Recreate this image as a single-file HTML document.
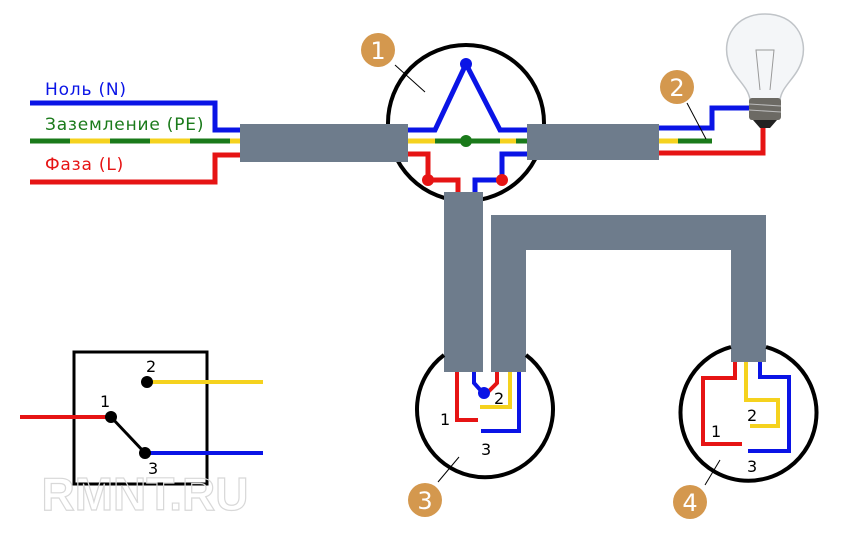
<!DOCTYPE html>
<html><head><meta charset="utf-8"><style>body{margin:0;background:#fff}svg{display:block}</style></head><body>
<svg width="850" height="536" viewBox="0 0 850 536" xmlns="http://www.w3.org/2000/svg" font-family="'DejaVu Sans','Liberation Sans',sans-serif">
<g fill="none" stroke-width="5">
<polyline points="30,103 215,103 215,130 240,130" stroke="#0a14e6"/>
<line x1="30" y1="141" x2="240" y2="141" stroke="#f5d21e"/>
<line x1="30" y1="141" x2="240" y2="141" stroke="#1a7a1a" stroke-dasharray="40 40"/>
<polyline points="30,182 215,182 215,155 240,155" stroke="#e61414"/>
</g>
<g font-size="17" letter-spacing="0.8">
<text x="45" y="95" fill="#0a14e6">Ноль (N)</text>
<text x="45" y="130" fill="#1a7a1a">Заземление (PE)</text>
<text x="45" y="170" fill="#e61414">Фаза (L)</text>
</g>
<circle cx="466" cy="123" r="78" fill="#fff" stroke="#000" stroke-width="4"/>
<g fill="none" stroke-width="5">
<polyline points="408,130 435,130 466,64 500,130 527,130" stroke="#0a14e6"/>
<line x1="408" y1="141" x2="527" y2="141" stroke="#f5d21e"/>
<line x1="435" y1="141" x2="500" y2="141" stroke="#1a7a1a"/>
<line x1="516" y1="141" x2="527" y2="141" stroke="#1a7a1a"/>
<polyline points="408,154 428,154 428,180 458,180 458,195" stroke="#e61414"/>
<polyline points="475,195 475,180 502,180 502,154 527,154" stroke="#0a14e6"/>
</g>
<circle cx="466" cy="64" r="6" fill="#0a14e6"/>
<circle cx="466" cy="141" r="6" fill="#1a7a1a"/>
<circle cx="428" cy="180" r="6" fill="#e61414"/>
<circle cx="502" cy="180" r="6" fill="#e61414"/>
<line x1="395" y1="65" x2="425" y2="92" stroke="#000" stroke-width="1"/>
<g fill="none" stroke-width="5">
<polyline points="659,128 712,128 712,108 750,108" stroke="#0a14e6"/>
<line x1="659" y1="141" x2="712" y2="141" stroke="#1a7a1a"/>
<line x1="659" y1="141" x2="678" y2="141" stroke="#f5d21e"/>
<polyline points="659,153 763,153 763,128" stroke="#e61414"/>
</g>
<line x1="687" y1="103" x2="706" y2="139" stroke="#000" stroke-width="1"/>
<path d="M765,14 C735,14 722,38 728,60 C733,78 748,85 750,100 L780,100 C782,85 797,78 802,60 C808,38 795,14 765,14 Z" fill="#f4f6f8" stroke="#c0c4c8" stroke-width="1.5"/>
<path d="M760,90 L756,50 L774,50 L770,90" fill="none" stroke="#999" stroke-width="1"/>
<rect x="749" y="98" width="32" height="22" fill="#6c6a64" rx="3"/>
<line x1="749" y1="104" x2="781" y2="106" stroke="#bbb"/>
<line x1="749" y1="110" x2="781" y2="112" stroke="#bbb"/>
<path d="M753,120 L777,120 L770,128 L760,128 Z" fill="#222"/>
<g fill="#6e7c8c">
<rect x="240" y="124" width="168" height="38"/>
<rect x="527" y="124" width="132" height="36"/>
<rect x="444" y="192" width="39" height="180"/>
<path d="M491,215 H766 V362 H731 V250 H526 V372 H491 Z"/>
</g>
<path d="M444,355 A68,68 0 1 0 526,355" fill="none" stroke="#000" stroke-width="4"/>
<g fill="none" stroke-width="4">
<polyline points="457,372 457,420 478,420" stroke="#e61414"/>
<polyline points="474,372 474,383 483,393" stroke="#0a14e6"/>
<polyline points="497,372 497,383 487,393" stroke="#e61414"/>
<polyline points="510,372 510,407 480,407" stroke="#f5d21e"/>
<polyline points="519,372 519,431 481,431" stroke="#0a14e6"/>
</g>
<circle cx="484" cy="393" r="6" fill="#0a14e6"/>
<g font-size="16" fill="#000">
<text x="440" y="425">1</text><text x="494" y="404">2</text><text x="481" y="455">3</text>
</g>
<line x1="438" y1="482" x2="459" y2="457" stroke="#000" stroke-width="1"/>
<path d="M731,347 A68,68 0 1 0 766,347" fill="none" stroke="#000" stroke-width="4"/>
<g fill="none" stroke-width="4">
<polyline points="735,362 735,378 703,378 703,444 742,444" stroke="#e61414"/>
<polyline points="746,362 746,400 778,400 778,426 750,426" stroke="#f5d21e"/>
<polyline points="760,362 760,377 789,377 789,451 748,451" stroke="#0a14e6"/>
</g>
<g font-size="16" fill="#000">
<text x="711" y="437">1</text><text x="747" y="421">2</text><text x="747" y="472">3</text>
</g>
<line x1="705" y1="485" x2="720" y2="460" stroke="#000" stroke-width="1"/>
<g fill="#d4984e">
<circle cx="378" cy="50" r="17"/><circle cx="677" cy="87" r="17"/>
<circle cx="425" cy="500" r="17"/><circle cx="690" cy="502" r="17"/>
</g>
<g font-size="24" fill="#fff" text-anchor="middle">
<text x="378" y="59">1</text><text x="677" y="96">2</text><text x="425" y="509">3</text><text x="690" y="511">4</text>
</g>
<rect x="74" y="352" width="133" height="132" fill="none" stroke="#000" stroke-width="3"/>
<text x="145" y="510" font-size="46" font-weight="bold" fill="none" stroke="#d8d8d8" stroke-width="1.2" text-anchor="middle" font-family="'Liberation Sans',sans-serif">RMNT.RU</text>
<g fill="none" stroke-width="4">
<line x1="150" y1="382" x2="263" y2="382" stroke="#f5d21e"/>
<line x1="145" y1="453" x2="263" y2="453" stroke="#0a14e6"/>
<line x1="20" y1="417" x2="111" y2="417" stroke="#e61414"/>
</g>
<line x1="111" y1="417" x2="145" y2="453" stroke="#000" stroke-width="3"/>
<circle cx="147" cy="382" r="6" fill="#000"/><circle cx="111" cy="417" r="6" fill="#000"/><circle cx="145" cy="453" r="6" fill="#000"/>
<g font-size="16" fill="#000"><text x="146" y="372">2</text><text x="100" y="407">1</text><text x="148" y="474">3</text></g>
</svg>
</body></html>
